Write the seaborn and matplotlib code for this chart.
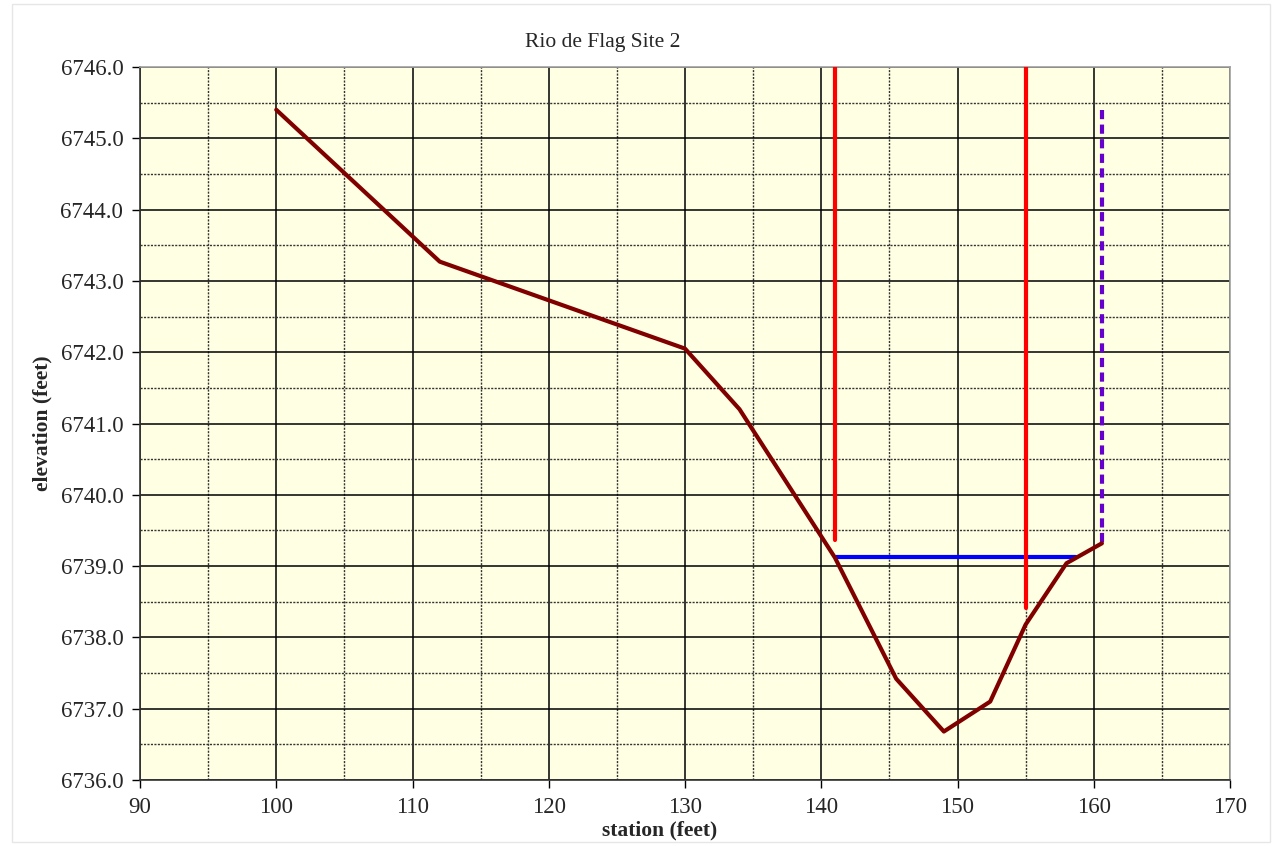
import matplotlib
matplotlib.use("Agg")
import matplotlib.pyplot as plt
import seaborn as sns
import pandas as pd
from matplotlib.ticker import MultipleLocator, FormatStrFormatter
from matplotlib.patches import Rectangle

# Channel cross-section survey (station vs. ground elevation)
station = [100, 112, 130, 134, 141, 145.5, 149, 152.4, 155, 158, 160.6]
elevation = [6745.4, 6743.27, 6742.05, 6741.2, 6739.12, 6737.42, 6736.68,
             6737.1, 6738.18, 6739.04, 6739.32]

# Water surface line
water_station = [141.1, 158.7]
water_elev = [6739.13, 6739.13]

# Bankfull markers (vertical red lines)
bank_left_station = [141.0, 141.0]
bank_left_elev = [6746.0, 6739.37]
bank_right_station = [155.0, 155.0]
bank_right_elev = [6746.0, 6738.41]

# Right reference stake (dashed purple)
stake_station = [160.6, 160.6]
stake_elev = [6745.4, 6739.32]

sns.set_style("white")
plt.rcParams["font.family"] = ["Liberation Serif", "DejaVu Serif"]

fig = plt.figure(figsize=(12.75, 8.46), dpi=100)
ax = fig.add_axes([140 / 1275, 1 - 780 / 846, 1090 / 1275, 713 / 846])
ax.set_facecolor("#FFFFE3")


def draw(xs, ys, color, z, ls="-"):
    sns.lineplot(x=xs, y=ys, sort=False, estimator=None, errorbar=None,
                 color=color, linewidth=3, ax=ax, zorder=z)
    ax.lines[-1].set_linestyle(ls)


draw(station, elevation, "#800000", 5)
draw(water_station, water_elev, "#0000FF", 4)
draw(bank_left_station, bank_left_elev, "#FF0000", 4)
draw(bank_right_station, bank_right_elev, "#FF0000", 4)
draw(stake_station, stake_elev, "#6600CC", 4, ls=(0, (2.2, 1.3)))

ax.set_xlim(90, 170)
ax.set_ylim(6736, 6746)
ax.xaxis.set_major_locator(MultipleLocator(10))
ax.xaxis.set_minor_locator(MultipleLocator(5))
ax.yaxis.set_major_locator(MultipleLocator(1))
ax.yaxis.set_minor_locator(MultipleLocator(0.5))
ax.yaxis.set_major_formatter(FormatStrFormatter("%.1f"))

ax.grid(which="major", color="black", linewidth=1.1, linestyle="-")
ax.grid(which="minor", color="#333333", linewidth=1.0, linestyle=(0, (1.5, 1)))
ax.set_axisbelow(True)

ax.tick_params(which="major", direction="out", length=6, width=1,
               color="black", labelsize=16.5, bottom=True, left=True, pad=6)
ax.tick_params(which="minor", length=0)

for side in ("left", "bottom"):
    ax.spines[side].set_color("#333333")
    ax.spines[side].set_linewidth(1.2)
for side in ("top", "right"):
    ax.spines[side].set_color("#A0A0A0")
    ax.spines[side].set_linewidth(1.2)

ax.set_xlabel("")
ax.set_ylabel("")
fig.text(603 / 1275, 1 - 43 / 846, "Rio de Flag Site 2", ha="center",
         va="center", fontsize=15.5)
fig.text(660 / 1275, 1 - 830 / 846, "station (feet)", ha="center",
         va="center", fontsize=15.5, fontweight="bold")
fig.text(42 / 1275, 1 - 423 / 846, "elevation (feet)", ha="center",
         va="center", rotation=90, fontsize=15.5, fontweight="bold")

# Thin outer chart frame
fig.patches.append(Rectangle((12 / 1275, 4 / 846), 1258 / 1275, 838 / 846,
                             transform=fig.transFigure, fill=False,
                             edgecolor="#E6E6E6", linewidth=1))

fig.savefig("out.png", dpi=100)
